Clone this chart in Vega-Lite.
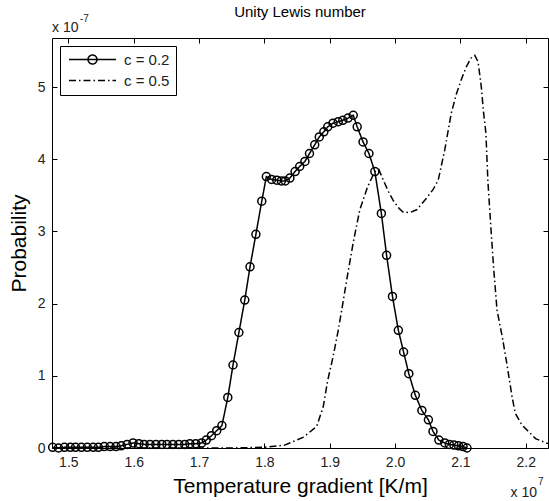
{
  "$schema": "https://vega.github.io/schema/vega-lite/v6.json",
  "width": 496,
  "height": 410,
  "autosize": "none",
  "padding": {"left": 52, "top": 38, "right": 1, "bottom": 53},
  "background": "white",
  "config": {
    "font": "Liberation Sans",
    "view": {"stroke": "black", "strokeWidth": 1},
    "axis": {"labelFont": "Liberation Sans", "titleFont": "Liberation Sans", "labelColor": "#222", "titleColor": "black", "tickColor": "black", "domain": false, "grid": false, "titleFontWeight": "normal"}
  },
  "title": {"text": "Unity Lewis number", "fontSize": 15, "fontWeight": "normal", "font": "Liberation Sans", "color": "black", "anchor": "middle", "offset": -6},
  "datasets": {
    "curves": [
      {"series": "c = 0.2", "x": 1.476, "y": 0.01},
      {"series": "c = 0.2", "x": 1.485, "y": 0.0},
      {"series": "c = 0.2", "x": 1.494, "y": 0.01},
      {"series": "c = 0.2", "x": 1.503, "y": 0.01},
      {"series": "c = 0.2", "x": 1.511, "y": 0.01},
      {"series": "c = 0.2", "x": 1.520, "y": 0.01},
      {"series": "c = 0.2", "x": 1.529, "y": 0.01},
      {"series": "c = 0.2", "x": 1.538, "y": 0.01},
      {"series": "c = 0.2", "x": 1.546, "y": 0.01},
      {"series": "c = 0.2", "x": 1.555, "y": 0.02},
      {"series": "c = 0.2", "x": 1.564, "y": 0.02},
      {"series": "c = 0.2", "x": 1.573, "y": 0.02},
      {"series": "c = 0.2", "x": 1.581, "y": 0.03},
      {"series": "c = 0.2", "x": 1.590, "y": 0.05},
      {"series": "c = 0.2", "x": 1.599, "y": 0.07},
      {"series": "c = 0.2", "x": 1.608, "y": 0.06},
      {"series": "c = 0.2", "x": 1.616, "y": 0.05},
      {"series": "c = 0.2", "x": 1.625, "y": 0.05},
      {"series": "c = 0.2", "x": 1.634, "y": 0.05},
      {"series": "c = 0.2", "x": 1.643, "y": 0.05},
      {"series": "c = 0.2", "x": 1.651, "y": 0.05},
      {"series": "c = 0.2", "x": 1.660, "y": 0.05},
      {"series": "c = 0.2", "x": 1.669, "y": 0.05},
      {"series": "c = 0.2", "x": 1.678, "y": 0.05},
      {"series": "c = 0.2", "x": 1.686, "y": 0.06},
      {"series": "c = 0.2", "x": 1.695, "y": 0.06},
      {"series": "c = 0.2", "x": 1.704, "y": 0.07},
      {"series": "c = 0.2", "x": 1.711, "y": 0.11},
      {"series": "c = 0.2", "x": 1.719, "y": 0.17},
      {"series": "c = 0.2", "x": 1.727, "y": 0.24},
      {"series": "c = 0.2", "x": 1.735, "y": 0.31},
      {"series": "c = 0.2", "x": 1.744, "y": 0.70},
      {"series": "c = 0.2", "x": 1.752, "y": 1.15},
      {"series": "c = 0.2", "x": 1.761, "y": 1.60},
      {"series": "c = 0.2", "x": 1.770, "y": 2.05},
      {"series": "c = 0.2", "x": 1.778, "y": 2.51},
      {"series": "c = 0.2", "x": 1.787, "y": 2.96},
      {"series": "c = 0.2", "x": 1.796, "y": 3.42},
      {"series": "c = 0.2", "x": 1.803, "y": 3.76},
      {"series": "c = 0.2", "x": 1.811, "y": 3.72},
      {"series": "c = 0.2", "x": 1.819, "y": 3.71},
      {"series": "c = 0.2", "x": 1.826, "y": 3.70},
      {"series": "c = 0.2", "x": 1.832, "y": 3.70},
      {"series": "c = 0.2", "x": 1.839, "y": 3.74},
      {"series": "c = 0.2", "x": 1.847, "y": 3.83},
      {"series": "c = 0.2", "x": 1.854, "y": 3.90},
      {"series": "c = 0.2", "x": 1.862, "y": 3.97},
      {"series": "c = 0.2", "x": 1.869, "y": 4.08},
      {"series": "c = 0.2", "x": 1.877, "y": 4.20},
      {"series": "c = 0.2", "x": 1.884, "y": 4.31},
      {"series": "c = 0.2", "x": 1.891, "y": 4.38},
      {"series": "c = 0.2", "x": 1.897, "y": 4.45},
      {"series": "c = 0.2", "x": 1.905, "y": 4.50},
      {"series": "c = 0.2", "x": 1.913, "y": 4.52},
      {"series": "c = 0.2", "x": 1.920, "y": 4.54},
      {"series": "c = 0.2", "x": 1.928, "y": 4.57},
      {"series": "c = 0.2", "x": 1.936, "y": 4.61},
      {"series": "c = 0.2", "x": 1.942, "y": 4.45},
      {"series": "c = 0.2", "x": 1.951, "y": 4.24},
      {"series": "c = 0.2", "x": 1.960, "y": 4.08},
      {"series": "c = 0.2", "x": 1.969, "y": 3.83},
      {"series": "c = 0.2", "x": 1.979, "y": 3.25},
      {"series": "c = 0.2", "x": 1.987, "y": 2.67},
      {"series": "c = 0.2", "x": 1.996, "y": 2.10},
      {"series": "c = 0.2", "x": 2.005, "y": 1.63},
      {"series": "c = 0.2", "x": 2.013, "y": 1.33},
      {"series": "c = 0.2", "x": 2.021, "y": 1.03},
      {"series": "c = 0.2", "x": 2.031, "y": 0.73},
      {"series": "c = 0.2", "x": 2.041, "y": 0.52},
      {"series": "c = 0.2", "x": 2.051, "y": 0.39},
      {"series": "c = 0.2", "x": 2.058, "y": 0.23},
      {"series": "c = 0.2", "x": 2.067, "y": 0.11},
      {"series": "c = 0.2", "x": 2.076, "y": 0.07},
      {"series": "c = 0.2", "x": 2.083, "y": 0.05},
      {"series": "c = 0.2", "x": 2.090, "y": 0.04},
      {"series": "c = 0.2", "x": 2.097, "y": 0.03},
      {"series": "c = 0.2", "x": 2.104, "y": 0.02},
      {"series": "c = 0.2", "x": 2.110, "y": 0.00},
      {"series": "c = 0.5", "x": 1.475, "y": 0.0},
      {"series": "c = 0.5", "x": 1.55, "y": 0.0},
      {"series": "c = 0.5", "x": 1.65, "y": 0.0},
      {"series": "c = 0.5", "x": 1.75, "y": 0.0},
      {"series": "c = 0.5", "x": 1.80, "y": 0.01},
      {"series": "c = 0.5", "x": 1.831, "y": 0.04},
      {"series": "c = 0.5", "x": 1.86, "y": 0.15},
      {"series": "c = 0.5", "x": 1.880, "y": 0.30},
      {"series": "c = 0.5", "x": 1.890, "y": 0.57},
      {"series": "c = 0.5", "x": 1.897, "y": 0.94},
      {"series": "c = 0.5", "x": 1.905, "y": 1.26},
      {"series": "c = 0.5", "x": 1.913, "y": 1.63},
      {"series": "c = 0.5", "x": 1.920, "y": 2.00},
      {"series": "c = 0.5", "x": 1.926, "y": 2.33},
      {"series": "c = 0.5", "x": 1.936, "y": 2.85},
      {"series": "c = 0.5", "x": 1.946, "y": 3.30},
      {"series": "c = 0.5", "x": 1.958, "y": 3.62},
      {"series": "c = 0.5", "x": 1.969, "y": 3.83},
      {"series": "c = 0.5", "x": 1.975, "y": 3.86},
      {"series": "c = 0.5", "x": 1.982, "y": 3.71},
      {"series": "c = 0.5", "x": 1.990, "y": 3.55},
      {"series": "c = 0.5", "x": 1.997, "y": 3.43},
      {"series": "c = 0.5", "x": 2.005, "y": 3.33},
      {"series": "c = 0.5", "x": 2.012, "y": 3.27},
      {"series": "c = 0.5", "x": 2.022, "y": 3.26},
      {"series": "c = 0.5", "x": 2.033, "y": 3.30},
      {"series": "c = 0.5", "x": 2.048, "y": 3.46},
      {"series": "c = 0.5", "x": 2.058, "y": 3.58},
      {"series": "c = 0.5", "x": 2.066, "y": 3.71},
      {"series": "c = 0.5", "x": 2.076, "y": 4.13},
      {"series": "c = 0.5", "x": 2.086, "y": 4.64},
      {"series": "c = 0.5", "x": 2.094, "y": 4.91},
      {"series": "c = 0.5", "x": 2.102, "y": 5.12},
      {"series": "c = 0.5", "x": 2.109, "y": 5.28},
      {"series": "c = 0.5", "x": 2.116, "y": 5.40},
      {"series": "c = 0.5", "x": 2.122, "y": 5.44},
      {"series": "c = 0.5", "x": 2.127, "y": 5.35},
      {"series": "c = 0.5", "x": 2.132, "y": 5.00},
      {"series": "c = 0.5", "x": 2.135, "y": 4.68},
      {"series": "c = 0.5", "x": 2.139, "y": 4.36},
      {"series": "c = 0.5", "x": 2.142, "y": 3.70},
      {"series": "c = 0.5", "x": 2.147, "y": 3.00},
      {"series": "c = 0.5", "x": 2.151, "y": 2.47},
      {"series": "c = 0.5", "x": 2.156, "y": 1.91},
      {"series": "c = 0.5", "x": 2.164, "y": 1.54},
      {"series": "c = 0.5", "x": 2.171, "y": 1.17},
      {"series": "c = 0.5", "x": 2.179, "y": 0.71},
      {"series": "c = 0.5", "x": 2.184, "y": 0.48},
      {"series": "c = 0.5", "x": 2.194, "y": 0.32},
      {"series": "c = 0.5", "x": 2.215, "y": 0.13},
      {"series": "c = 0.5", "x": 2.234, "y": 0.06}
    ],
    "multipliers": [
      {"label": "x 10", "exp": "-7", "where": "y"},
      {"label": "x 10", "exp": "7", "where": "x"}
    ]
  },
  "data": {"name": "curves"},
  "layer": [
    {
      "mark": {"type": "line", "color": "black", "strokeWidth": 1.5},
      "encoding": {
        "x": {"field": "x", "type": "quantitative", "title": "Temperature gradient [K/m]",
          "scale": {"domain": [1.475, 2.234], "nice": false, "zero": false},
          "axis": {"orient": "bottom", "values": [1.5, 1.6, 1.7, 1.8, 1.9, 2.0, 2.1, 2.2], "tickSize": -5, "labelPadding": 12, "labelFontSize": 14, "titleFontSize": 21, "titlePadding": 6, "labelFlush": false}},
        "y": {"field": "y", "type": "quantitative", "title": "Probability",
          "scale": {"domain": [0, 5.68], "nice": false},
          "axis": {"orient": "left", "values": [0, 1, 2, 3, 4, 5], "tickSize": -5, "labelPadding": 12, "labelFontSize": 14, "titleFontSize": 21, "titlePadding": 8, "labelFlush": false}},
        "strokeDash": {"field": "series", "type": "nominal",
          "scale": {"domain": ["c = 0.2", "c = 0.5"], "range": [[1, 0], [7, 3, 1.5, 3]]},
          "legend": {"title": null, "orient": "top-left", "offset": 8, "strokeColor": "black", "fillColor": "white", "padding": 6, "symbolSize": 100, "symbolOffset": 19, "symbolStrokeWidth": 1.5, "symbolStrokeColor": "black", "symbolFillColor": "transparent", "symbolType": "stroke", "labelFontSize": 15, "labelColor": "#222", "labelOffset": 24, "rowPadding": 5, "cornerRadius": 0,
            "encoding": {"symbols": {"shape": {"condition": {"test": "datum.value === 'c = 0.2'", "value": "M-4.7,0H4.7M0.9,0A0.9,0.9,0,1,1,-0.9,0A0.9,0.9,0,1,1,0.9,0Z"}, "value": "M-4.7,0H4.7"}}}}
        },
        "strokeWidth": {"condition": {"test": "datum.series === 'c = 0.5'", "value": 2}, "value": 1.5}
      }
    },
    {
      "transform": [{"filter": "datum.series === 'c = 0.2'"}],
      "mark": {"type": "point", "shape": "circle", "filled": false, "color": "black", "size": 64, "strokeWidth": 1.5, "opacity": 1},
      "encoding": {
        "x": {"field": "x", "type": "quantitative", "axis": {"orient": "top", "values": [1.5, 1.6, 1.7, 1.8, 1.9, 2.0, 2.1, 2.2], "tickSize": -5, "labels": false, "title": null}},
        "y": {"field": "y", "type": "quantitative", "axis": {"orient": "right", "values": [0, 1, 2, 3, 4, 5], "tickSize": -5, "labels": false, "title": null}}
      }
    },
    {
      "data": {"name": "multipliers"},
      "transform": [{"filter": "datum.where === 'y'"}],
      "layer": [
        {"mark": {"type": "text", "align": "left", "baseline": "alphabetic", "fontSize": 14, "color": "#222", "dy": -6},
         "encoding": {"x": {"datum": 1.475, "type": "quantitative", "axis": null}, "y": {"datum": 5.68, "type": "quantitative", "axis": null}, "text": {"field": "label"}}},
        {"mark": {"type": "text", "align": "left", "baseline": "alphabetic", "fontSize": 10, "color": "#222", "dx": 28, "dy": -16},
         "encoding": {"x": {"datum": 1.475, "type": "quantitative", "axis": null}, "y": {"datum": 5.68, "type": "quantitative", "axis": null}, "text": {"field": "exp"}}}
      ]
    },
    {
      "data": {"name": "multipliers"},
      "transform": [{"filter": "datum.where === 'x'"}],
      "layer": [
        {"mark": {"type": "text", "align": "right", "baseline": "alphabetic", "fontSize": 14, "color": "#222", "dx": -11, "dy": 49},
         "encoding": {"x": {"datum": 2.234, "type": "quantitative", "axis": null}, "y": {"datum": 0, "type": "quantitative", "axis": null}, "text": {"field": "label"}}},
        {"mark": {"type": "text", "align": "left", "baseline": "alphabetic", "fontSize": 10, "color": "#222", "dx": -10, "dy": 37},
         "encoding": {"x": {"datum": 2.234, "type": "quantitative", "axis": null}, "y": {"datum": 0, "type": "quantitative", "axis": null}, "text": {"field": "exp"}}}
      ]
    }
  ],
  "resolve": {"axis": {"x": "independent", "y": "independent"}}
}
